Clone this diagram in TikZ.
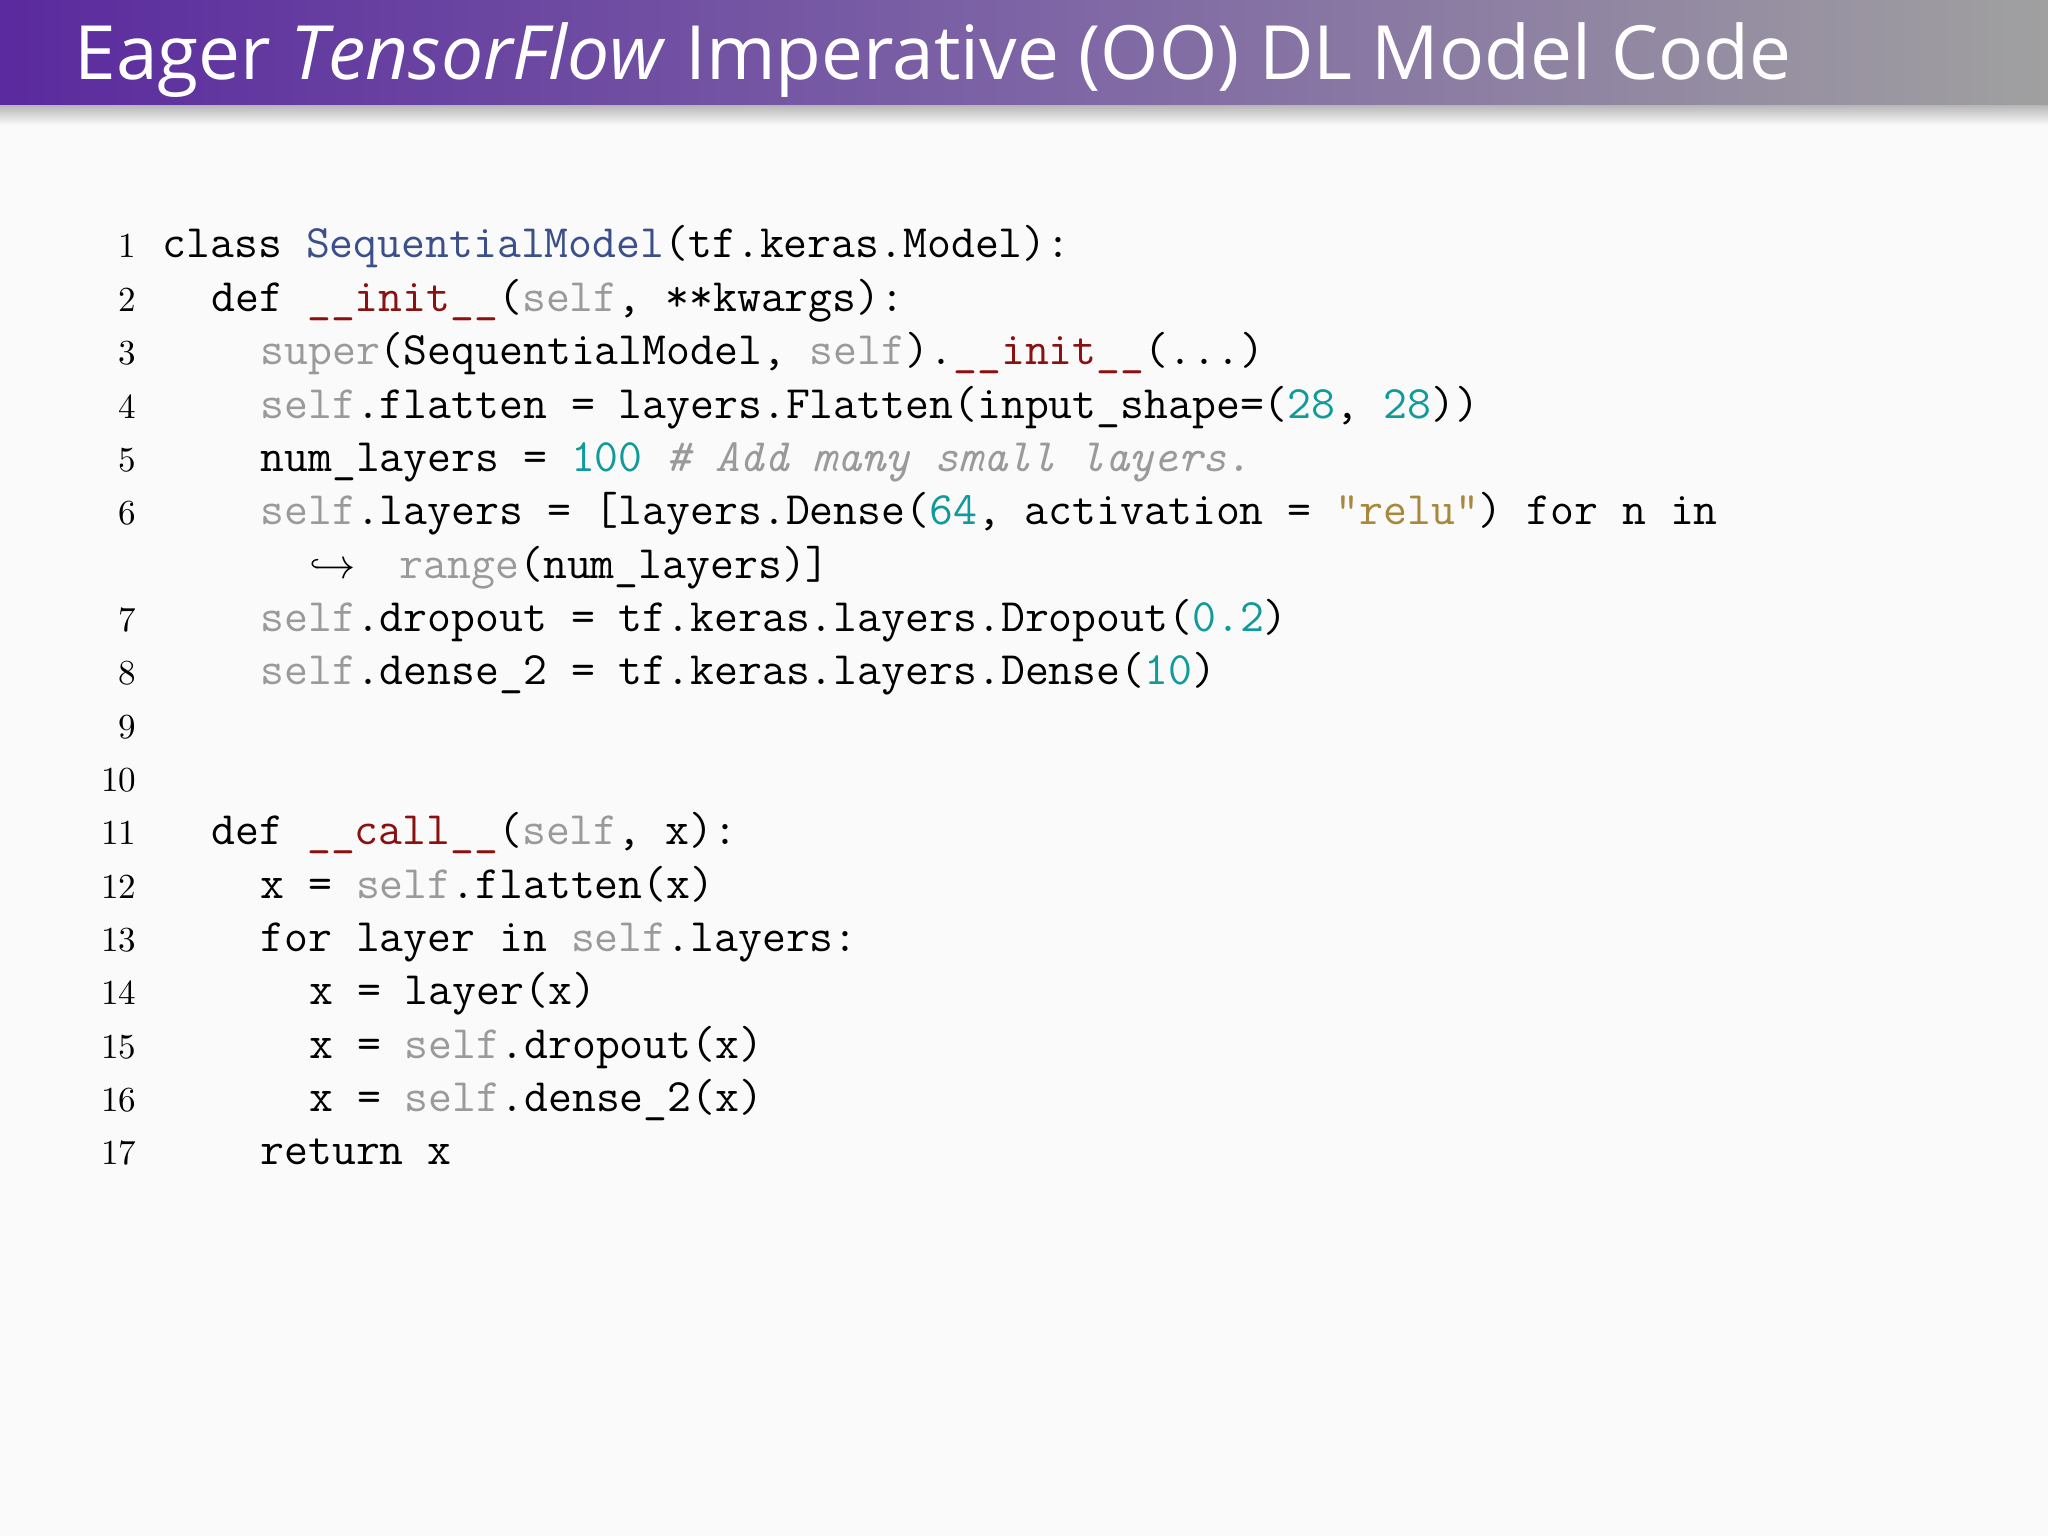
\documentclass[tikz,border=0pt]{standalone}
\usepackage{fontspec}
\setsansfont{Open Sans}
\definecolor{selfc}{HTML}{9A9A9A}
\definecolor{clsc}{HTML}{3B4F8A}
\definecolor{func}{HTML}{8B1010}
\definecolor{numc}{HTML}{109A9A}
\definecolor{strc}{HTML}{A8883A}
\definecolor{barL}{HTML}{5A2A9E}
\definecolor{barR}{HTML}{A0A0A0}
\newcommand{\slf}[1]{\textcolor{selfc}{#1}}
\newcommand{\nm}[1]{\textcolor{numc}{#1}}
\begin{document}
\begin{tikzpicture}[x=1cm,y=1cm,
  code/.style={anchor=base west,inner sep=0pt,font=\ttfamily\fontsize{13.2}{15}\selectfont},
  lnum/.style={anchor=base east,inner sep=0pt,font=\rmfamily\fontsize{10}{12}\selectfont}]
\useasboundingbox (0,0) rectangle (20.48,-15.36);
\fill[fill={rgb,255:red,250;green,250;blue,250}] (0,0) rectangle (20.48,-15.36);
\shade[top color=black!30,bottom color={rgb,255:red,250;green,250;blue,250}] (0,-1.04) rectangle (20.48,-1.25);
\shade[left color=barL,right color=barR,middle color={rgb,255:red,125;green,100;blue,165}] (0,0) rectangle (20.48,-1.05);
\node[anchor=base west,inner sep=0pt,text=white,font=\sffamily\fontsize{21.3}{24}\selectfont] (title) at (0.74,-0.8) {Eager \textit{TensorFlow} Imperative (OO) DL Model Code};
\def\cx{1.62}\def\cw{0.2444}\def\ly{2.58}\def\ls{0.5335}
\foreach \n/\i in {1/0,2/1,3/2,4/3,5/4,6/5,7/7,8/8,9/9,10/10,11/11,12/12,13/13,14/14,15/15,16/16,17/17}{
  \node[lnum] (ln\n) at (1.37,{-\ly-\i*\ls}) {\n};}
\newcommand{\cl}[3]{\node[code] (c#1) at ({\cx+#2*\cw},{-\ly-#1*\ls}) {#3};}
\cl{0}{0}{class \textcolor{clsc}{SequentialModel}(tf.keras.Model):}
\cl{1}{2}{def \textcolor{func}{\_\_init\_\_}(\slf{self}, **kwargs):}
\cl{2}{4}{\slf{super}(SequentialModel, \slf{self}).\textcolor{func}{\_\_init\_\_}(...)}
\cl{3}{4}{\slf{self}.flatten = layers.Flatten(input\_shape=(\nm{28}, \nm{28}))}
\cl{4}{4}{num\_layers = \nm{100} \textcolor{selfc}{\textit{\# Add many small layers.}}}
\cl{5}{4}{\slf{self}.layers = [layers.Dense(\nm{64}, activation = \textcolor{strc}{"relu"}) for n in}
\node[code] (arr) at ({\cx+6*\cw},{-\ly-6*\ls}) {$\hookrightarrow$};
\cl{6}{9.7}{\slf{range}(num\_layers)]}
\cl{7}{4}{\slf{self}.dropout = tf.keras.layers.Dropout(\nm{0.2})}
\cl{8}{4}{\slf{self}.dense\_2 = tf.keras.layers.Dense(\nm{10})}
\cl{11}{2}{def \textcolor{func}{\_\_call\_\_}(\slf{self}, x):}
\cl{12}{4}{x = \slf{self}.flatten(x)}
\cl{13}{4}{for layer in \slf{self}.layers:}
\cl{14}{6}{x = layer(x)}
\cl{15}{6}{x = \slf{self}.dropout(x)}
\cl{16}{6}{x = \slf{self}.dense\_2(x)}
\cl{17}{4}{return x}
\end{tikzpicture}
\end{document}
